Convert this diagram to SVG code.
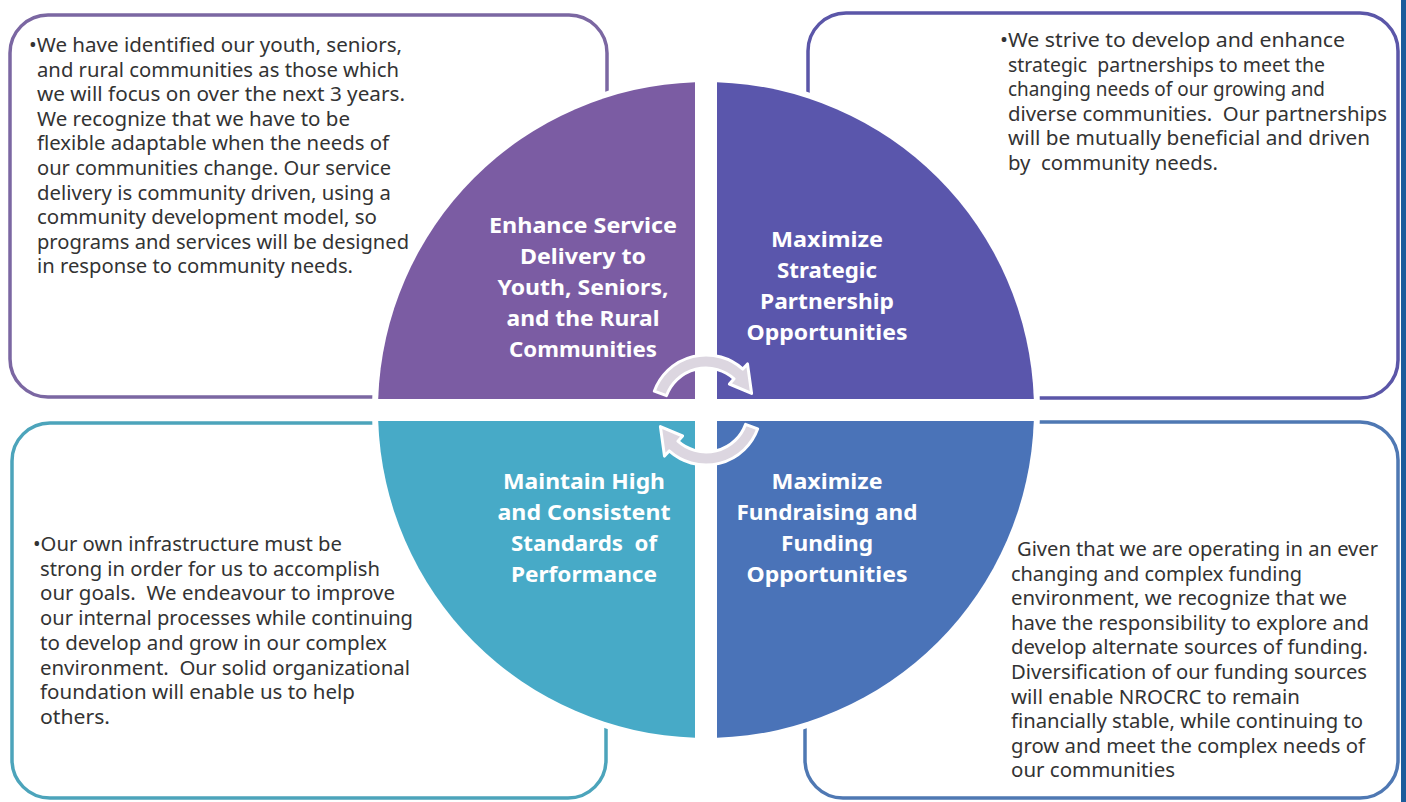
<svg xmlns="http://www.w3.org/2000/svg" width="1406" height="802" viewBox="0 0 1406 802">
<style>
.body{font-family:"Noto Sans","Liberation Sans",sans-serif;font-size:19px;fill:#333333;white-space:pre}
.lbl{font-family:"Noto Sans","Liberation Sans",sans-serif;font-size:22px;font-weight:700;fill:#ffffff;text-anchor:middle;white-space:pre}
.box{fill:#ffffff;stroke-width:3.5}
.arrow{fill:#dcd6e0;stroke:#ffffff;stroke-width:3;stroke-linejoin:round}
</style>
<rect width="1406" height="802" fill="#ffffff"/>
<rect x="1401" y="0" width="5" height="802" fill="#1b5c9b"/>

<g id="box-tl">
<rect class="box" x="10" y="15" width="597" height="382" rx="38" stroke="#7b67a2"/>
</g>
<g id="box-tr">
<rect class="box" x="808" y="13" width="590" height="385" rx="38" stroke="#5b56a8"/>
</g>
<g id="box-bl">
<rect class="box" x="12" y="423" width="594" height="375" rx="38" stroke="#4ca4bb"/>
</g>
<g id="box-br">
<rect class="box" x="805" y="422" width="593" height="376" rx="38" stroke="#4f78b3"/>
</g>

<circle cx="706" cy="410" r="334" fill="#ffffff"/>

<g id="quad-tl">
<path d="M695,399 L378.2,399 A328,328 0 0 1 695,82.2 Z" fill="#7b5ca3"/>
<text class="lbl" x="583" y="233" textLength="188" lengthAdjust="spacingAndGlyphs">Enhance Service</text>
<text class="lbl" x="583" y="264" textLength="126" lengthAdjust="spacingAndGlyphs">Delivery to</text>
<text class="lbl" x="583" y="295" textLength="171" lengthAdjust="spacingAndGlyphs">Youth, Seniors,</text>
<text class="lbl" x="583" y="326" textLength="153" lengthAdjust="spacingAndGlyphs">and the Rural</text>
<text class="lbl" x="583" y="357" textLength="148" lengthAdjust="spacingAndGlyphs">Communities</text>
</g>
<g id="quad-tr">
<path d="M717,399 L717,82.2 A328,328 0 0 1 1033.8,399 Z" fill="#5a56ac"/>
<text class="lbl" x="827" y="247" textLength="112" lengthAdjust="spacingAndGlyphs">Maximize</text>
<text class="lbl" x="827" y="278" textLength="100" lengthAdjust="spacingAndGlyphs">Strategic</text>
<text class="lbl" x="827" y="309" textLength="134" lengthAdjust="spacingAndGlyphs">Partnership</text>
<text class="lbl" x="827" y="340" textLength="161" lengthAdjust="spacingAndGlyphs">Opportunities</text>
</g>
<g id="quad-bl">
<path d="M695,421 L695,737.8 A328,328 0 0 1 378.2,421 Z" fill="#47aac7"/>
<text class="lbl" x="584" y="489" textLength="162" lengthAdjust="spacingAndGlyphs">Maintain High</text>
<text class="lbl" x="584" y="520" textLength="173" lengthAdjust="spacingAndGlyphs">and Consistent</text>
<text class="lbl" x="584" y="551" textLength="146" lengthAdjust="spacingAndGlyphs">Standards  of</text>
<text class="lbl" x="584" y="582" textLength="146" lengthAdjust="spacingAndGlyphs">Performance</text>
</g>
<g id="quad-br">
<path d="M717,421 L1033.8,421 A328,328 0 0 1 717,737.8 Z" fill="#4a73b8"/>
<text class="lbl" x="827" y="489" textLength="111" lengthAdjust="spacingAndGlyphs">Maximize</text>
<text class="lbl" x="827" y="520" textLength="181" lengthAdjust="spacingAndGlyphs">Fundraising and</text>
<text class="lbl" x="827" y="551" textLength="92" lengthAdjust="spacingAndGlyphs">Funding</text>
<text class="lbl" x="827" y="582" textLength="161" lengthAdjust="spacingAndGlyphs">Opportunities</text>
</g>

<g id="connectors">
<path class="arrow" d="M654.3,391.2 A55,55 0 0 1 742.8,369.1 L747.5,363.9 L751.6,393.4 L729.4,384 L734.1,378.8 A42,42 0 0 0 666.5,395.6 Z"/>
<path class="arrow" d="M757.7,428.8 A55,55 0 0 1 669.2,450.9 L664.5,456.1 L660.4,426.6 L682.6,436 L677.9,441.2 A42,42 0 0 0 745.5,424.4 Z"/>
</g>

<g id="text-tl">
<text class="body" x="29" y="52" textLength="373" lengthAdjust="spacingAndGlyphs">•We have identified our youth, seniors,</text>
<text class="body" x="37" y="76.6" textLength="362" lengthAdjust="spacingAndGlyphs">and rural communities as those which</text>
<text class="body" x="37" y="101.2" textLength="368" lengthAdjust="spacingAndGlyphs">we will focus on over the next 3 years.</text>
<text class="body" x="37" y="125.8" textLength="313" lengthAdjust="spacingAndGlyphs">We recognize that we have to be</text>
<text class="body" x="37" y="150.4" textLength="352" lengthAdjust="spacingAndGlyphs">flexible adaptable when the needs of</text>
<text class="body" x="37" y="175" textLength="354" lengthAdjust="spacingAndGlyphs">our communities change. Our service</text>
<text class="body" x="37" y="199.6" textLength="354" lengthAdjust="spacingAndGlyphs">delivery is community driven, using a</text>
<text class="body" x="37" y="224.2" textLength="340" lengthAdjust="spacingAndGlyphs">community development model, so</text>
<text class="body" x="37" y="248.8" textLength="372" lengthAdjust="spacingAndGlyphs">programs and services will be designed</text>
<text class="body" x="37" y="273.4" textLength="316" lengthAdjust="spacingAndGlyphs">in response to community needs.</text>
</g>

<g id="text-tr">
<text class="body" x="1000" y="47" textLength="345" lengthAdjust="spacingAndGlyphs">•We strive to develop and enhance</text>
<text class="body" x="1008" y="71.5" textLength="317" lengthAdjust="spacingAndGlyphs">strategic  partnerships to meet the</text>
<text class="body" x="1008" y="96" textLength="317" lengthAdjust="spacingAndGlyphs">changing needs of our growing and</text>
<text class="body" x="1008" y="120.5" textLength="379" lengthAdjust="spacingAndGlyphs">diverse communities.  Our partnerships</text>
<text class="body" x="1008" y="145" textLength="362" lengthAdjust="spacingAndGlyphs">will be mutually beneficial and driven</text>
<text class="body" x="1008" y="169.5" textLength="210" lengthAdjust="spacingAndGlyphs">by  community needs.</text>
</g>

<g id="text-bl">
<text class="body" x="33" y="551" textLength="309" lengthAdjust="spacingAndGlyphs">•Our own infrastructure must be</text>
<text class="body" x="40" y="575.7" textLength="340" lengthAdjust="spacingAndGlyphs">strong in order for us to accomplish</text>
<text class="body" x="40" y="600.4" textLength="355" lengthAdjust="spacingAndGlyphs">our goals.  We endeavour to improve</text>
<text class="body" x="40" y="625.1" textLength="373" lengthAdjust="spacingAndGlyphs">our internal processes while continuing</text>
<text class="body" x="40" y="649.8" textLength="347" lengthAdjust="spacingAndGlyphs">to develop and grow in our complex</text>
<text class="body" x="40" y="674.5" textLength="370" lengthAdjust="spacingAndGlyphs">environment.  Our solid organizational</text>
<text class="body" x="40" y="699.2" textLength="315" lengthAdjust="spacingAndGlyphs">foundation will enable us to help</text>
<text class="body" x="40" y="723.9" textLength="70" lengthAdjust="spacingAndGlyphs">others.</text>
</g>

<g id="text-br">
<text class="body" x="1017" y="556" textLength="361" lengthAdjust="spacingAndGlyphs">Given that we are operating in an ever</text>
<text class="body" x="1011" y="580.6" textLength="291" lengthAdjust="spacingAndGlyphs">changing and complex funding</text>
<text class="body" x="1011" y="605.2" textLength="336" lengthAdjust="spacingAndGlyphs">environment, we recognize that we</text>
<text class="body" x="1011" y="629.8" textLength="358" lengthAdjust="spacingAndGlyphs">have the responsibility to explore and</text>
<text class="body" x="1011" y="654.4" textLength="357" lengthAdjust="spacingAndGlyphs">develop alternate sources of funding.</text>
<text class="body" x="1011" y="679" textLength="356" lengthAdjust="spacingAndGlyphs">Diversification of our funding sources</text>
<text class="body" x="1011" y="703.6" textLength="289" lengthAdjust="spacingAndGlyphs">will enable NROCRC to remain</text>
<text class="body" x="1011" y="728.2" textLength="352" lengthAdjust="spacingAndGlyphs">financially stable, while continuing to</text>
<text class="body" x="1011" y="752.8" textLength="354" lengthAdjust="spacingAndGlyphs">grow and meet the complex needs of</text>
<text class="body" x="1011" y="777.4" textLength="164" lengthAdjust="spacingAndGlyphs">our communities</text>
</g>
</svg>
